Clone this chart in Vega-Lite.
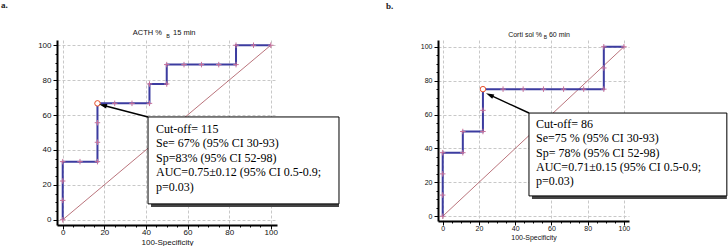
{
  "$schema": "https://vega.github.io/schema/vega-lite/v6.json",
  "autosize": {"type": "none"},
  "padding": {"left": 57, "top": 40, "right": 671, "bottom": 206},
  "background": "white",
  "spacing": 161,
  "bounds": "flush",
  "config": {
    "view": {"stroke": null},
    "axis": {
      "domainColor": "black", "domainWidth": 2, "tickColor": "black", "tickWidth": 1, "labelOverlap": false,
      "labelFont": "Liberation Sans", "titleFont": "Liberation Sans", "titleFontWeight": "normal",
      "labelColor": "#111", "titleColor": "#111", "gridColor": "#c8c8c8", "gridDash": [3, 2], "labelPadding": 2
    }
  },
  "datasets": {
    "rocA": [
      {"x": 0, "y": 0, "o": 0}, {"x": 0, "y": 11.1, "o": 1}, {"x": 0, "y": 22.2, "o": 2}, {"x": 0, "y": 33.3, "o": 3},
      {"x": 8.3, "y": 33.3, "o": 4}, {"x": 16.7, "y": 33.3, "o": 5}, {"x": 16.7, "y": 44.4, "o": 6}, {"x": 16.7, "y": 55.6, "o": 7},
      {"x": 16.7, "y": 66.7, "o": 8}, {"x": 25, "y": 66.7, "o": 9}, {"x": 33.3, "y": 66.7, "o": 10}, {"x": 41.7, "y": 66.7, "o": 11},
      {"x": 41.7, "y": 77.8, "o": 12}, {"x": 50, "y": 77.8, "o": 13}, {"x": 50, "y": 88.9, "o": 14}, {"x": 58.3, "y": 88.9, "o": 15},
      {"x": 66.7, "y": 88.9, "o": 16}, {"x": 75, "y": 88.9, "o": 17}, {"x": 83.3, "y": 88.9, "o": 18}, {"x": 83.3, "y": 100, "o": 19},
      {"x": 91.7, "y": 100, "o": 20}, {"x": 100, "y": 100, "o": 21}
    ],
    "rocB": [
      {"x": 0, "y": 0, "o": 0}, {"x": 0, "y": 12.5, "o": 1}, {"x": 0, "y": 25, "o": 2}, {"x": 0, "y": 37.5, "o": 3},
      {"x": 11.1, "y": 37.5, "o": 4}, {"x": 11.1, "y": 50, "o": 5}, {"x": 22.2, "y": 50, "o": 6}, {"x": 22.2, "y": 62.5, "o": 7},
      {"x": 22.2, "y": 75, "o": 8}, {"x": 33.3, "y": 75, "o": 9}, {"x": 44.4, "y": 75, "o": 10}, {"x": 55.6, "y": 75, "o": 11},
      {"x": 66.7, "y": 75, "o": 12}, {"x": 77.8, "y": 75, "o": 13}, {"x": 88.9, "y": 75, "o": 14}, {"x": 88.9, "y": 87.5, "o": 15},
      {"x": 88.9, "y": 100, "o": 16}, {"x": 100, "y": 100, "o": 17}
    ],
    "diag": [{"x": 0, "y": 0}, {"x": 100, "y": 100}],
    "cutA": [{"x": 16.7, "y": 66.7}],
    "cutB": [{"x": 22.2, "y": 75}],
    "arrowA": [{"x": 41.0, "y": 58.9, "x2": 19.3, "y2": 65.6, "angle": 284.8}],
    "arrowB": [{"x": 47.6, "y": 60.9, "x2": 25.9, "y2": 71.6, "angle": 295.1}],
    "boxA": [{"x": 41.0, "x2": 132.8, "y": 9.1, "y2": 58.9}],
    "boxB": [{"x": 47.6, "x2": 156.8, "y": 12.0, "y2": 60.9}],
    "textA": [
      {"x": 44.85, "y": 52.0, "t": "Cut-off= 115"},
      {"x": 44.85, "y": 43.8, "t": "Se= 67% (95% CI 30-93)"},
      {"x": 44.85, "y": 35.6, "t": "Sp=83% (95% CI 52-98)"},
      {"x": 44.85, "y": 27.2, "t": "AUC=0.75±0.12 (95% CI 0.5-0.9;"},
      {"x": 44.85, "y": 18.9, "t": "p=0.03)"}
    ],
    "textB": [
      {"x": 51.5, "y": 54.4, "t": "Cut-off= 86"},
      {"x": 51.5, "y": 46.0, "t": "Se=75 % (95% CI 30-93)"},
      {"x": 51.5, "y": 37.5, "t": "Sp= 78% (95% CI 52-98)"},
      {"x": 51.5, "y": 28.9, "t": "AUC=0.71±0.15 (95%  CI 0.5-0.9;"},
      {"x": 51.5, "y": 20.6, "t": "p=0.03)"}
    ],
    "titleA": [
      {"x": 47.7, "y": 107, "t": "ACTH %", "a": "r"},
      {"x": 50.6, "y": 105.3, "t": "B", "a": "c"},
      {"x": 53.0, "y": 107, "t": "15 min", "a": "l"}
    ],
    "titleB": [
      {"x": 54.8, "y": 107, "t": "Corti sol %", "a": "r"},
      {"x": 56.7, "y": 105.5, "t": "B", "a": "c"},
      {"x": 58.6, "y": 107, "t": "60 min", "a": "l"}
    ],
    "labA": [{"x": -29.7, "y": 123, "t": "a."}],
    "labB": [{"x": -31.3, "y": 124, "t": "b."}]
  },
  "hconcat": [
    {
      "width": 220, "height": 185,
      "resolve": {"axis": {"x": "independent", "y": "independent"}},
      "layer": [
        {
          "data": {"name": "diag"},
          "mark": {"type": "line", "color": "#a8505a", "strokeWidth": 0.8},
          "encoding": {
            "x": {"field": "x", "type": "quantitative", "scale": {"domain": [-2.75, 103], "nice": false, "zero": false},
              "axis": {"values": [0,20,40,60,80,100], "title": "100-Specificity", "titleFontSize": 8, "titlePadding": 2, "labelFontSize": 8, "labelPadding": -1, "tickSize": 4}},
            "y": {"field": "y", "type": "quantitative", "scale": {"domain": [-3, 103], "nice": false, "zero": false},
              "axis": {"values": [0,20,40,60,80,100], "title": null, "labelFontSize": 8, "tickSize": 4}}
          }
        },
        {
          "data": {"name": "diag"},
          "mark": {"type": "line", "strokeOpacity": 0},
          "encoding": {
            "x": {"field": "x", "type": "quantitative",
              "axis": {"orient": "bottom", "values": [5,10,15,25,30,35,45,50,55,65,70,75,85,90,95], "labels": false, "grid": false, "domain": false, "title": null, "tickSize": 2}},
            "y": {"field": "y", "type": "quantitative",
              "axis": {"orient": "left", "values": [5,10,15,25,30,35,45,50,55,65,70,75,85,90,95], "labels": false, "grid": false, "domain": false, "title": null, "tickSize": 2}}
          }
        },
        {
          "data": {"name": "rocA"},
          "mark": {"type": "line", "color": "#3c3ca0", "strokeWidth": 2},
          "encoding": {"x": {"field": "x", "type": "quantitative", "axis": null}, "y": {"field": "y", "type": "quantitative", "axis": null}, "order": {"field": "o"}}
        },
        {
          "data": {"name": "rocA"},
          "mark": {"type": "point", "shape": "M-1,0L1,0M0,-1L0,1", "filled": false, "color": "#c8709a", "strokeWidth": 1, "size": 30, "opacity": 1},
          "encoding": {"x": {"field": "x", "type": "quantitative", "axis": null}, "y": {"field": "y", "type": "quantitative", "axis": null}}
        },
        {
          "data": {"name": "cutA"},
          "mark": {"type": "point", "shape": "circle", "filled": true, "fill": "white", "stroke": "#e8502a", "strokeWidth": 1, "size": 30, "opacity": 1},
          "encoding": {"x": {"field": "x", "type": "quantitative", "axis": null}, "y": {"field": "y", "type": "quantitative", "axis": null}}
        },
        {
          "data": {"name": "arrowA"},
          "mark": {"type": "rule", "color": "black", "strokeWidth": 1.5},
          "encoding": {"x": {"field": "x", "type": "quantitative", "axis": null}, "y": {"field": "y", "type": "quantitative", "axis": null}, "x2": {"field": "x2"}, "y2": {"field": "y2"}}
        },
        {
          "data": {"name": "arrowA"},
          "mark": {"type": "point", "shape": "M0,-1L0.6,1L-0.6,1Z", "filled": true, "color": "black", "size": 64, "opacity": 1},
          "encoding": {"x": {"field": "x2", "type": "quantitative", "axis": null}, "y": {"field": "y2", "type": "quantitative", "axis": null}, "angle": {"field": "angle", "type": "quantitative", "scale": null}}
        },
        {
          "data": {"name": "boxA"},
          "mark": {"type": "rect", "fill": "#444", "xOffset": 3, "yOffset": 3},
          "encoding": {"x": {"field": "x", "type": "quantitative", "axis": null}, "x2": {"field": "x2"}, "y": {"field": "y", "type": "quantitative", "axis": null}, "y2": {"field": "y2"}}
        },
        {
          "data": {"name": "boxA"},
          "mark": {"type": "rect", "fill": "white", "stroke": "black", "strokeWidth": 1},
          "encoding": {"x": {"field": "x", "type": "quantitative", "axis": null}, "x2": {"field": "x2"}, "y": {"field": "y", "type": "quantitative", "axis": null}, "y2": {"field": "y2"}}
        },
        {
          "data": {"name": "textA"},
          "mark": {"type": "text", "font": "Liberation Serif", "fontSize": 12, "align": "left", "baseline": "middle", "color": "black"},
          "encoding": {"x": {"field": "x", "type": "quantitative", "axis": null}, "y": {"field": "y", "type": "quantitative", "axis": null}, "text": {"field": "t"}}
        },
        {
          "data": {"name": "titleA"},
          "transform": [{"filter": "datum.a === 'r'"}],
          "mark": {"type": "text", "font": "Liberation Sans", "fontSize": 7.5, "align": "right", "baseline": "middle", "color": "#111"},
          "encoding": {"x": {"field": "x", "type": "quantitative", "axis": null}, "y": {"field": "y", "type": "quantitative", "axis": null}, "text": {"field": "t"}}
        },
        {
          "data": {"name": "titleA"},
          "transform": [{"filter": "datum.a === 'c'"}],
          "mark": {"type": "text", "font": "Liberation Sans", "fontSize": 5.5, "align": "center", "baseline": "middle", "color": "#111"},
          "encoding": {"x": {"field": "x", "type": "quantitative", "axis": null}, "y": {"field": "y", "type": "quantitative", "axis": null}, "text": {"field": "t"}}
        },
        {
          "data": {"name": "titleA"},
          "transform": [{"filter": "datum.a === 'l'"}],
          "mark": {"type": "text", "font": "Liberation Sans", "fontSize": 7.5, "align": "left", "baseline": "middle", "color": "#111"},
          "encoding": {"x": {"field": "x", "type": "quantitative", "axis": null}, "y": {"field": "y", "type": "quantitative", "axis": null}, "text": {"field": "t"}}
        },
        {
          "data": {"name": "labA"},
          "mark": {"type": "text", "font": "Liberation Serif", "fontSize": 9, "fontWeight": "bold", "align": "left", "baseline": "middle", "color": "#222"},
          "encoding": {"x": {"field": "x", "type": "quantitative", "axis": null}, "y": {"field": "y", "type": "quantitative", "axis": null}, "text": {"field": "t"}}
        }
      ]
    },
    {
      "width": 191, "height": 181,
      "resolve": {"axis": {"x": "independent", "y": "independent"}},
      "layer": [
        {
          "data": {"name": "diag"},
          "mark": {"type": "line", "color": "#a8505a", "strokeWidth": 0.8},
          "encoding": {
            "x": {"field": "x", "type": "quantitative", "scale": {"domain": [-2.6, 102.8], "nice": false, "zero": false},
              "axis": {"values": [0,20,40,60,80,100], "title": "100-Specificity", "titleFontSize": 7, "titlePadding": 2, "labelFontSize": 7, "labelPadding": -1, "tickSize": 4}},
            "y": {"field": "y", "type": "quantitative", "scale": {"domain": [-2.8, 104], "nice": false, "zero": false},
              "axis": {"values": [0,20,40,60,80,100], "title": null, "labelFontSize": 7, "tickSize": 4}}
          }
        },
        {
          "data": {"name": "diag"},
          "mark": {"type": "line", "strokeOpacity": 0},
          "encoding": {
            "x": {"field": "x", "type": "quantitative",
              "axis": {"orient": "bottom", "values": [5,10,15,25,30,35,45,50,55,65,70,75,85,90,95], "labels": false, "grid": false, "domain": false, "title": null, "tickSize": 2}},
            "y": {"field": "y", "type": "quantitative",
              "axis": {"orient": "left", "values": [5,10,15,25,30,35,45,50,55,65,70,75,85,90,95], "labels": false, "grid": false, "domain": false, "title": null, "tickSize": 2}}
          }
        },
        {
          "data": {"name": "rocB"},
          "mark": {"type": "line", "color": "#3c3ca0", "strokeWidth": 2},
          "encoding": {"x": {"field": "x", "type": "quantitative", "axis": null}, "y": {"field": "y", "type": "quantitative", "axis": null}, "order": {"field": "o"}}
        },
        {
          "data": {"name": "rocB"},
          "mark": {"type": "point", "shape": "M-1,0L1,0M0,-1L0,1", "filled": false, "color": "#c8709a", "strokeWidth": 1, "size": 30, "opacity": 1},
          "encoding": {"x": {"field": "x", "type": "quantitative", "axis": null}, "y": {"field": "y", "type": "quantitative", "axis": null}}
        },
        {
          "data": {"name": "cutB"},
          "mark": {"type": "point", "shape": "circle", "filled": true, "fill": "white", "stroke": "#e8502a", "strokeWidth": 1, "size": 30, "opacity": 1},
          "encoding": {"x": {"field": "x", "type": "quantitative", "axis": null}, "y": {"field": "y", "type": "quantitative", "axis": null}}
        },
        {
          "data": {"name": "arrowB"},
          "mark": {"type": "rule", "color": "black", "strokeWidth": 1.5},
          "encoding": {"x": {"field": "x", "type": "quantitative", "axis": null}, "y": {"field": "y", "type": "quantitative", "axis": null}, "x2": {"field": "x2"}, "y2": {"field": "y2"}}
        },
        {
          "data": {"name": "arrowB"},
          "mark": {"type": "point", "shape": "M0,-1L0.6,1L-0.6,1Z", "filled": true, "color": "black", "size": 64, "opacity": 1},
          "encoding": {"x": {"field": "x2", "type": "quantitative", "axis": null}, "y": {"field": "y2", "type": "quantitative", "axis": null}, "angle": {"field": "angle", "type": "quantitative", "scale": null}}
        },
        {
          "data": {"name": "boxB"},
          "mark": {"type": "rect", "fill": "#444", "xOffset": 3, "yOffset": 3},
          "encoding": {"x": {"field": "x", "type": "quantitative", "axis": null}, "x2": {"field": "x2"}, "y": {"field": "y", "type": "quantitative", "axis": null}, "y2": {"field": "y2"}}
        },
        {
          "data": {"name": "boxB"},
          "mark": {"type": "rect", "fill": "white", "stroke": "black", "strokeWidth": 1},
          "encoding": {"x": {"field": "x", "type": "quantitative", "axis": null}, "x2": {"field": "x2"}, "y": {"field": "y", "type": "quantitative", "axis": null}, "y2": {"field": "y2"}}
        },
        {
          "data": {"name": "textB"},
          "mark": {"type": "text", "font": "Liberation Serif", "fontSize": 12, "align": "left", "baseline": "middle", "color": "black"},
          "encoding": {"x": {"field": "x", "type": "quantitative", "axis": null}, "y": {"field": "y", "type": "quantitative", "axis": null}, "text": {"field": "t"}}
        },
        {
          "data": {"name": "titleB"},
          "transform": [{"filter": "datum.a === 'r'"}],
          "mark": {"type": "text", "font": "Liberation Sans", "fontSize": 7, "align": "right", "baseline": "middle", "color": "#111"},
          "encoding": {"x": {"field": "x", "type": "quantitative", "axis": null}, "y": {"field": "y", "type": "quantitative", "axis": null}, "text": {"field": "t"}}
        },
        {
          "data": {"name": "titleB"},
          "transform": [{"filter": "datum.a === 'c'"}],
          "mark": {"type": "text", "font": "Liberation Sans", "fontSize": 5, "align": "center", "baseline": "middle", "color": "#111"},
          "encoding": {"x": {"field": "x", "type": "quantitative", "axis": null}, "y": {"field": "y", "type": "quantitative", "axis": null}, "text": {"field": "t"}}
        },
        {
          "data": {"name": "titleB"},
          "transform": [{"filter": "datum.a === 'l'"}],
          "mark": {"type": "text", "font": "Liberation Sans", "fontSize": 7, "align": "left", "baseline": "middle", "color": "#111"},
          "encoding": {"x": {"field": "x", "type": "quantitative", "axis": null}, "y": {"field": "y", "type": "quantitative", "axis": null}, "text": {"field": "t"}}
        },
        {
          "data": {"name": "labB"},
          "mark": {"type": "text", "font": "Liberation Serif", "fontSize": 9, "fontWeight": "bold", "align": "left", "baseline": "middle", "color": "#222"},
          "encoding": {"x": {"field": "x", "type": "quantitative", "axis": null}, "y": {"field": "y", "type": "quantitative", "axis": null}, "text": {"field": "t"}}
        }
      ]
    }
  ]
}
